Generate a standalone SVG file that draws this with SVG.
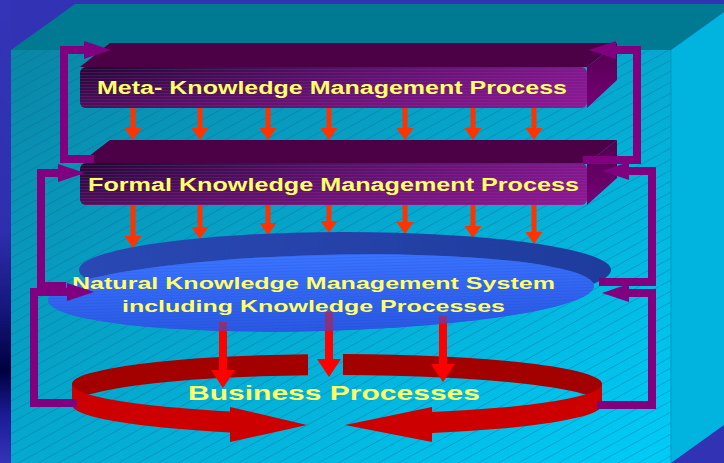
<svg xmlns="http://www.w3.org/2000/svg" width="724" height="463" viewBox="0 0 724 463">
<style>
.lbl{font-family:"Liberation Sans",Arial,sans-serif;font-weight:bold;fill:#ffff66}
.top{fill:#4c0046}
.side{fill:url(#gSide)}
.front{fill:url(#gFront)}
.stripe{fill:url(#pStripe)}
.shade{fill:url(#gFrontV)}
.fa{fill:#ff3300}
.ba{fill:#ff0000}
.loop{fill:none;stroke:#800080;stroke-width:8;stroke-linejoin:miter;marker-end:url(#mHead)}
.ringBack{fill:#a30000}
.ringFront{fill:#cc0000}
</style>
<defs>
<linearGradient id="gWall" x1="0" y1="0" x2="1" y2="1"><stop offset="0" stop-color="#0a86a6"/><stop offset="1" stop-color="#00ccf8"/></linearGradient>
<linearGradient id="gLeft" x1="0" y1="0" x2="0" y2="1"><stop offset="0" stop-color="#3434b8"/><stop offset="0.5" stop-color="#2e2eae"/><stop offset="0.68" stop-color="#141478"/><stop offset="0.8" stop-color="#000040"/><stop offset="0.9" stop-color="#1c1c98"/><stop offset="1" stop-color="#3434b8"/></linearGradient>
<pattern id="pHatch" patternUnits="userSpaceOnUse" width="20" height="11"><path d="M-2,12.1 L22,-1.1" stroke="#0a5f8f" stroke-width="0.8" stroke-opacity="0.45"/></pattern>
<linearGradient id="gFront" x1="0" y1="0" x2="1" y2="0"><stop offset="0" stop-color="#1c0a32"/><stop offset="0.45" stop-color="#4a125e"/><stop offset="1" stop-color="#7c1a8c"/></linearGradient>
<linearGradient id="gFrontV" x1="0" y1="0" x2="0" y2="1"><stop offset="0" stop-color="#a020a0" stop-opacity="0"/><stop offset="1" stop-color="#a020a0" stop-opacity="0.35"/></linearGradient>
<linearGradient id="gSide" x1="0" y1="0" x2="0" y2="1"><stop offset="0" stop-color="#52004e"/><stop offset="1" stop-color="#760078"/></linearGradient>
<pattern id="pStripe" patternUnits="userSpaceOnUse" width="8" height="3"><rect width="8" height="1" fill="#c020b0" fill-opacity="0.25"/></pattern>
<pattern id="pStripeB" patternUnits="userSpaceOnUse" width="8" height="3"><rect width="8" height="1" fill="#1a3cc0" fill-opacity="0.3"/></pattern>
<linearGradient id="gDisc" x1="0" y1="0" x2="1" y2="0"><stop offset="0" stop-color="#2a48b4"/><stop offset="1" stop-color="#1e3c9c"/></linearGradient>
<linearGradient id="gDiscL" x1="0" y1="0" x2="0" y2="1"><stop offset="0" stop-color="#3a74ff"/><stop offset="1" stop-color="#2a58e2"/></linearGradient>
<marker id="mHead" markerUnits="userSpaceOnUse" markerWidth="27" markerHeight="18" viewBox="0 0 27 18" refX="0" refY="9" orient="auto"><path d="M0,0 L27,9 L0,18 z" fill="#800080"/></marker>
<path id="sa1" d="M-2.5,108 h5 v20 h6 l-8.5,12 l-8.5,-12 h6 z"/>
<ellipse id="natLight" cx="321" cy="293" rx="273" ry="38" transform="rotate(-1.5 321 293)" fill="url(#gDiscL)"/>
</defs>

<g id="background">
<rect width="724" height="463" fill="#3232b4"/>
<rect x="0" y="0" width="11" height="463" fill="url(#gLeft)"/>
<rect x="11" y="50" width="660" height="413" fill="url(#gWall)"/>
<rect x="11" y="50" width="660" height="413" fill="url(#pHatch)"/>
<polygon points="75,4 724,4 724,12 671,50 11,50" fill="#007a92"/>
<polygon points="671,50 724,12 724,425 671,463" fill="#00b4e0"/>
<line x1="671" y1="50" x2="671" y2="463" stroke="#0096c0" stroke-width="1"/>
</g>

<g id="meta-process">
<polygon class="top" points="110,43 617,43 587,67 80,67"/>
<polygon class="side" points="587,67 617,43 617,80 587,108"/>
<rect class="front" x="80" y="67" width="507" height="41" rx="6"/>
<rect class="shade" x="80" y="67" width="507" height="41" rx="6"/>
<rect class="stripe" x="80" y="67" width="507" height="41" rx="6"/>
<text class="lbl" x="97" y="94" font-size="17.5" textLength="470" lengthAdjust="spacingAndGlyphs">Meta- Knowledge Management Process</text>
</g>

<g id="formal-process">
<polygon class="top" points="110,140 617,140 587,163 80,163"/>
<polygon class="side" points="587,163 617,140 617,178 587,205"/>
<rect class="front" x="80" y="163" width="507" height="42" rx="6"/>
<rect class="shade" x="80" y="163" width="507" height="42" rx="6"/>
<rect class="stripe" x="80" y="163" width="507" height="42" rx="6"/>
<text class="lbl" x="88" y="190.5" font-size="17.5" textLength="491" lengthAdjust="spacingAndGlyphs">Formal Knowledge Management Process</text>
</g>

<g id="connectors-meta-to-formal">
<use href="#sa1" x="133" class="fa"/>
<use href="#sa1" x="200" class="fa"/>
<use href="#sa1" x="268" class="fa"/>
<use href="#sa1" x="329" class="fa"/>
<use href="#sa1" x="405" class="fa"/>
<use href="#sa1" x="473" class="fa"/>
<use href="#sa1" x="534" class="fa"/>
</g>

<g id="connectors-formal-to-natural">
<polygon class="fa" points="130.5,205 135.5,205 135.5,236 141.5,236 133,248 124.5,236 130.5,236"/>
<polygon class="fa" points="197.5,205 202.5,205 202.5,227 208.5,227 200,239 191.5,227 197.5,227"/>
<polygon class="fa" points="265.5,205 270.5,205 270.5,223 276.5,223 268,235 259.5,223 265.5,223"/>
<polygon class="fa" points="326.5,205 331.5,205 331.5,221 337.5,221 329,233 320.5,221 326.5,221"/>
<polygon class="fa" points="402.5,205 407.5,205 407.5,222 413.5,222 405,234 396.5,222 402.5,222"/>
<polygon class="fa" points="470.5,205 475.5,205 475.5,226 481.5,226 473,238 464.5,226 470.5,226"/>
<polygon class="fa" points="531.5,205 536.5,205 536.5,232 542.5,232 534,244 525.5,232 531.5,232"/>
</g>

<g id="natural-system">
<ellipse cx="345" cy="270" rx="266" ry="38" fill="url(#gDisc)"/>
<use href="#natLight"/>
<ellipse cx="321" cy="293" rx="273" ry="38" transform="rotate(-1.5 321 293)" fill="url(#pStripeB)"/>
</g>

<g id="business-processes-back">
<path class="ringBack" d="M72,384 A265,30 0 0,1 308,354.2 L308,375.2 A265,30 0 0,0 72,405 Z"/>
<path class="ringBack" d="M343,354 A265,30 0 0,1 602,384 L602,405 A265,30 0 0,0 343,375 Z"/>
</g>

<g id="connectors-natural-to-business">
<polygon class="ba" points="219,322 227,322 227,370 235,370 223,388 211,370 219,370"/>
<polygon class="ba" points="325,312 333,312 333,359 341,359 329,377 317,359 325,359"/>
<polygon class="ba" points="439,316 447,316 447,364 455,364 443,382 431,364 439,364"/>
</g>

<g id="natural-system-label">
<use href="#natLight" opacity="0.55"/>
<text class="lbl" x="72" y="289" font-size="16.5" textLength="483" lengthAdjust="spacingAndGlyphs">Natural Knowledge Management System</text>
<text class="lbl" x="122" y="311.5" font-size="16.5" textLength="383" lengthAdjust="spacingAndGlyphs">including Knowledge Processes</text>
</g>

<g id="business-processes">
<path class="ringFront" d="M72,384 A265,30 0 0,0 230,411.4 L230,407 L307,425 L230,442 L230,432.4 A265,30 0 0,1 72,405 Z"/>
<path class="ringFront" d="M602,384 A265,30 0 0,1 432,412 L432,407 L345,425 L432,442 L432,433 A265,30 0 0,0 602,405 Z"/>
<text class="lbl" x="188" y="400" font-size="21" textLength="292" lengthAdjust="spacingAndGlyphs">Business Processes</text>
</g>

<g id="connectors-feedback">
<path class="loop" d="M94,159 H64 V50 H84"/>
<path class="loop" d="M583,160 H637 V50 H616"/>
<path class="loop" d="M66,286 H41 V173 H58"/>
<path class="loop" d="M599,282 H652 V171 H629"/>
<path class="loop" d="M77,403 H34 V292 H67"/>
<path class="loop" d="M597,405 H652 V293 H629"/>
</g>
</svg>
